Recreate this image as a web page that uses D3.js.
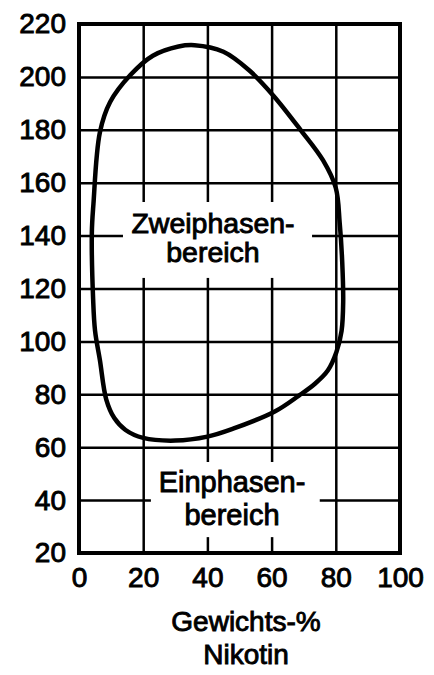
<!DOCTYPE html>
<html lang="de">
<head>
<meta charset="UTF-8">
<title>Nikotin - Wasser</title>
<script src="https://cdn.jsdelivr.net/npm/d3@7"></script>
<style>
  body { margin: 0; background: #fff; }
  text { font-family: "Liberation Sans", Arial, sans-serif; fill: #000; }
</style>
</head>
<body>
<div id="chart"></div>
<script>
// Gewichts-% Nikotin (x) und Temperatur (y) entlang der Phasengrenze
var curveX = [36, 45, 53, 60.5, 69, 76, 80, 81.2, 82, 82.3, 81.8, 80.2, 77.5, 73.5, 68.5, 61, 48, 40, 30, 20, 14.5, 11, 8.5, 6.5, 5, 4.4, 4, 4.5, 6.5, 9.7, 16, 23, 31];
var curveY = [212, 209.5, 202.5, 193, 180, 168.5, 158, 145, 130, 115, 104, 96, 89, 84, 79.5, 73.5, 67, 64, 62.5, 63.5, 66.5, 71, 78, 93, 104, 116, 141, 152, 179, 190.5, 200.7, 208, 211.5];

var xTicks = [0, 20, 40, 60, 80, 100];
var yTicks = [20, 40, 60, 80, 100, 120, 140, 160, 180, 200, 220];
var xTitle = ["Gewichts-%", "Nikotin"];
var zweiLabel = ["Zweiphasen-", "bereich"];
var einLabel = ["Einphasen-", "bereich"];

var width = 434, height = 675;
var margin = {left: 79, right: 34, top: 24, bottom: 122};

var x = d3.scaleLinear().domain([0, 100]).range([margin.left, width - margin.right]);
var y = d3.scaleLinear().domain([20, 220]).range([height - margin.bottom, margin.top]);

var svg = d3.select("#chart").append("svg")
    .attr("width", width)
    .attr("height", height);

// grid
svg.append("g")
    .attr("transform", "translate(0," + y(20) + ")")
    .call(d3.axisBottom(x).tickValues(xTicks.slice(1, -1)).tickSize(-(y(20) - y(220))).tickFormat(""))
    .call(function (g) { g.select(".domain").remove(); })
    .selectAll("line").attr("stroke", "#000").attr("stroke-width", 2.5);

svg.append("g")
    .attr("transform", "translate(" + x(0) + ",0)")
    .call(d3.axisLeft(y).tickValues(yTicks.slice(1, -1)).tickSize(-(x(100) - x(0))).tickFormat(""))
    .call(function (g) { g.select(".domain").remove(); })
    .selectAll("line").attr("stroke", "#000").attr("stroke-width", 2.5);

// white label boxes over the grid
svg.append("rect")
    .attr("x", x(13.7)).attr("y", y(152.7))
    .attr("width", x(72.6) - x(13.7)).attr("height", y(124) - y(152.7))
    .attr("fill", "#fff");
svg.append("rect")
    .attr("x", x(22.4)).attr("y", y(54.4))
    .attr("width", x(75) - x(22.4)).attr("height", y(26) - y(54.4))
    .attr("fill", "#fff");

// frame
svg.append("rect")
    .attr("x", x(0)).attr("y", y(220))
    .attr("width", x(100) - x(0)).attr("height", y(20) - y(220))
    .attr("fill", "none").attr("stroke", "#000").attr("stroke-width", 4);

// phase boundary
var pts = curveX.map(function (d, i) { return [x(d), y(curveY[i])]; });
svg.append("path")
    .attr("d", d3.line().curve(d3.curveCatmullRomClosed.alpha(0.5))(pts))
    .attr("fill", "none")
    .attr("stroke", "#000")
    .attr("stroke-width", 4.5);

// tick labels
var yAxis = svg.append("g")
    .attr("transform", "translate(" + (x(0) - 13) + ",0)")
    .call(d3.axisLeft(y).tickValues(yTicks).tickSize(0).tickPadding(0));
yAxis.select(".domain").remove();
yAxis.selectAll("text")
    .attr("font-size", 28).attr("font-family", "Liberation Sans, Arial, sans-serif")
    .attr("fill", "#000").attr("stroke", "#000").attr("stroke-width", 0.9);

var xAxis = svg.append("g")
    .attr("transform", "translate(0," + (y(20) + 14) + ")")
    .call(d3.axisBottom(x).tickValues(xTicks).tickSize(0).tickPadding(0));
xAxis.select(".domain").remove();
xAxis.selectAll("text")
    .attr("font-size", 28).attr("font-family", "Liberation Sans, Arial, sans-serif")
    .attr("fill", "#000").attr("stroke", "#000").attr("stroke-width", 0.9);

function label(lines, cx, baselines, size) {
    svg.append("g").selectAll("text")
        .data(lines)
        .join("text")
        .attr("x", cx)
        .attr("y", function (d, i) { return baselines[i]; })
        .attr("text-anchor", "middle")
        .attr("font-size", size)
        .attr("stroke", "#000").attr("stroke-width", 0.9)
        .text(function (d) { return d; });
}

label(zweiLabel, 213, [233, 262], 28.5);
label(einLabel, 232, [492, 525], 29);
label(xTitle, 246, [631, 664], 28);
</script>
</body>
</html>
